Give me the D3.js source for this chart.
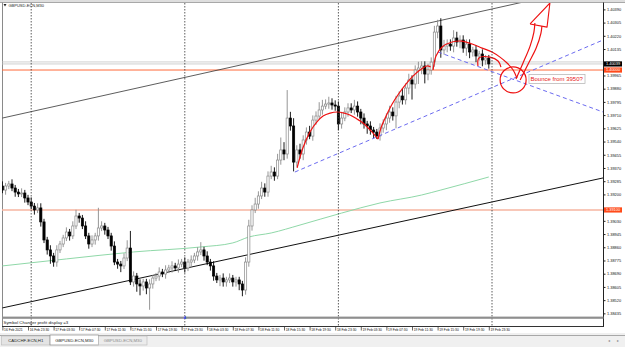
<!DOCTYPE html>
<html>
<head>
<meta charset="utf-8">
<script src="https://cdnjs.cloudflare.com/ajax/libs/d3/7.8.5/d3.min.js"></script>
<style>
  body { margin: 0; background: #fff; }
  svg { display: block; font-family: "Liberation Sans", Arial, sans-serif; }
</style>
</head>
<body>
<svg id="chart" width="625" height="347"></svg>
<script>
// ---- data (GBPUSD M30, 16-19 Feb 2021) ----
const pip = 0.0001
const firstOpen = 1.39254
const closes = [
  1.39228, 1.39254, 1.39267, 1.39241, 1.39215, 1.39203, 1.39209, 1.39177, 1.39151, 1.39125,
  1.39100, 1.39113, 1.39023, 1.38907, 1.38843, 1.38804, 1.38765, 1.38843, 1.38881, 1.38920,
  1.38958, 1.38933, 1.38997, 1.39061, 1.39048, 1.38997, 1.38933, 1.38881, 1.38907, 1.38933,
  1.38984, 1.38997, 1.38971, 1.38933, 1.38868, 1.38765, 1.38752, 1.38740, 1.38791, 1.38855,
  1.38637, 1.38675, 1.38624, 1.38611, 1.38637, 1.38598, 1.38624, 1.38662, 1.38675, 1.38701,
  1.38688, 1.38714, 1.38727, 1.38740, 1.38727, 1.38752, 1.38765, 1.38727, 1.38765, 1.38778,
  1.38804, 1.38830, 1.38843, 1.38804, 1.38765, 1.38740, 1.38675, 1.38650, 1.38662, 1.38637,
  1.38650, 1.38662, 1.38637, 1.38650, 1.38624, 1.38585, 1.38765, 1.38997, 1.39100, 1.39138,
  1.39190, 1.39241, 1.39215, 1.39318, 1.39344, 1.39318, 1.39421, 1.39486, 1.39460, 1.39691,
  1.39640, 1.39408, 1.39486, 1.39460, 1.39550, 1.39601, 1.39575, 1.39678, 1.39704, 1.39743,
  1.39768, 1.39781, 1.39788, 1.39775, 1.39768, 1.39653, 1.39691, 1.39730, 1.39756, 1.39743,
  1.39768, 1.39730, 1.39691, 1.39653, 1.39640, 1.39614, 1.39601, 1.39576, 1.39627, 1.39653,
  1.39691, 1.39730, 1.39705, 1.39794, 1.39833, 1.39808, 1.39884, 1.39936, 1.39910, 1.40000,
  1.40013, 1.40026, 1.39974, 1.40000, 1.40051, 1.40244, 1.40283, 1.40129, 1.40154, 1.40167,
  1.40154, 1.40206, 1.40180, 1.40193, 1.40141, 1.40167, 1.40116, 1.40129, 1.40090, 1.40103,
  1.40064, 1.40077, 1.40039
]
// wick lengths above / below the body, in pips
const upWick = [
  3,2,2,3,2,2,3,2,2,3,  2,3,3,2,2,3,2,3,2,2,  3,2,3,4,2,2,3,2,3,2,
  13,3,2,2,2,3,2,2,3,5, 11,3,2,3,2,2,3,2,2,3, 2,3,2,3,2,3,2,3,2,3,
  2,3,5,2,3,2,3,2,2,3,  2,3,2,2,2,2,3,4,3,4,  3,4,3,3,4,3,4,8,5,18,
  4,5,3,4,3,3,4,3,3,5,  4,3,4,3,3,3,4,3,3,3,  4,3,2,3,2,3,2,2,3,3,
  3,4,3,4,3,5,3,4,3,3,  4,3,3,4,3,4,4,5,4,3,  3,5,4,3,3,3,3,2,3,2,
  3,2,2
]
const dnWick = [
  2,3,2,2,3,2,2,3,2,2,  3,2,3,2,3,5,3,3,2,2,  2,3,2,2,3,2,2,3,2,3,
  3,2,3,2,3,2,3,4,2,2,  2,3,5,6,3,4,14,3,2,3, 2,3,2,3,2,3,2,3,2,3,
  2,3,2,3,2,3,3,2,4,3,  3,2,3,3,4,4,3,3,3,2,  3,2,3,3,2,3,2,3,4,3,
  3,6,3,3,4,3,2,3,3,2,  3,2,3,3,3,4,3,2,3,2,  3,3,4,3,5,3,4,2,3,3,
  4,3,3,8,4,3,3,4,10,3, 9,4,6,4,3,3,4,5,3,4,  3,4,3,4,3,5,4,3,4,3,
  4,3,3
]

const priceTicks = [1.40390, 1.40305, 1.40220, 1.40135, 1.40050, 1.39965, 1.39880, 1.39795,
  1.39710, 1.39625, 1.39540, 1.39455, 1.39370, 1.39285, 1.39200, 1.39115, 1.39030, 1.38945,
  1.38860, 1.38775, 1.38690, 1.38605, 1.38520, 1.38435]

const timeBars = [0, 8, 16, 24, 32, 40, 48, 56, 64, 72, 80, 88, 96, 104, 112, 120, 128, 136, 144, 152]
const timeLabels = ["16 Feb 2021", "16 Feb 23:30", "17 Feb 03:30", "17 Feb 07:30", "17 Feb 11:30",
  "17 Feb 15:30", "17 Feb 19:30", "17 Feb 23:30", "18 Feb 03:30", "18 Feb 07:30", "18 Feb 11:30",
  "18 Feb 15:30", "18 Feb 19:30", "18 Feb 23:30", "19 Feb 03:30", "19 Feb 07:30", "19 Feb 11:30",
  "19 Feb 15:30", "19 Feb 19:30", "19 Feb 23:30"]
const daySeps = [9, 57, 105, 153]

// moving average, read at a few bars
const maBars = [0, 20, 41, 62, 72, 77, 84, 93, 106, 118, 131, 137, 152]
const maVals = [1.38740, 1.38785, 1.38830, 1.38862, 1.38888, 1.38926, 1.38952, 1.39003,
  1.39080, 1.39145, 1.39196, 1.39228, 1.39312]

const levels = [1.40000, 1.39100]
const askPrice = 1.40052

// trend lines  [bar, price]
const chanUpper = [[0, 1.39691], [130, 1.40287]]
const chanLower = [[0, 1.38470], [150, 1.39138]]
const blueUp = [[91.4, 1.39344], [187.7, 1.40193]]
const blueDown = [[136.1, 1.40116], [187.7, 1.39730]]

// hand drawn red marks  [bar, price]
const arcLeft = [[92.1, 1.39370], [93.9, 1.39498], [96.1, 1.39601], [98.3, 1.39666], [100.2, 1.39704],
  [102.4, 1.39723], [104.6, 1.39730], [106.8, 1.39723], [108.6, 1.39711], [110.8, 1.39685],
  [112.7, 1.39659], [114.6, 1.39621], [116.1, 1.39588], [117.4, 1.39556]]
const arcRise = [[117.4, 1.39556], [118.3, 1.39627], [119.9, 1.39704], [121.8, 1.39781], [124.0, 1.39852],
  [126.1, 1.39910], [128.3, 1.39961], [130.5, 1.40000], [132.7, 1.40026], [133.8, 1.40020]]
const arcTop = [[134.6, 1.40000], [135.5, 1.40090], [137.4, 1.40148], [140.5, 1.40180], [143.6, 1.40186],
  [146.8, 1.40167], [149.9, 1.40141], [153.0, 1.40116], [155.5, 1.40083], [157.7, 1.40045],
  [159.6, 1.40000], [160.8, 1.39948]]
const loopSmall = [[148.6, 1.40026], [148.9, 1.40077], [152.4, 1.40083], [154.9, 1.40058], [155.8, 1.40019]]
const shaftA = [[160.5, 1.39942], [162.7, 1.40045], [164.9, 1.40154], [166.1, 1.40244], [166.4, 1.40302]]
const shaftB = [[161.8, 1.39936], [164.3, 1.40039], [166.8, 1.40141], [168.3, 1.40238], [168.6, 1.40283]]
const arrowHead = [[164.9, 1.40296], [171.1, 1.40431], [170.2, 1.40276], [164.9, 1.40296]]
const ring = {bar: 159.6, price: 1.39936}
const note = {bar: 164.4, price: 1.39942, text: "Bounce from 3950?"}

const tabs = ["CADCHF-ECN,H1", "GBPUSD-ECN,M30", "GBPUSD-ECN,M30"]

// ---------------------------------------------------------------
const plot = {left: 2, right: 603, top: 3, bottom: 316}

function make_scales() {
  return {
    x: d3.scaleLinear().domain([0, 150]).range([2.4, 482.4]),
    y: d3.scaleLinear().domain([1.38418, 1.40431]).range([316, 3])
  }
}

function build_bars() {
  return closes.map((c, i) => {
    let o = i == 0 ? firstOpen : closes[i - 1]
    return {
      i: i, o: o, c: c,
      h: Math.max(o, c) + (upWick[i] || 0) * pip,
      l: Math.min(o, c) - (dnWick[i] || 0) * pip
    }
  })
}

function draw_frame(svg) {
  svg.append("rect").attr("width", 625).attr("height", 347).attr("fill", "#fff")
  svg.append("rect").attr("width", 625).attr("height", 2).attr("fill", "#dedede")
  svg.append("line").attr("x1", 0).attr("x2", 625).attr("y1", 2.5).attr("y2", 2.5).attr("stroke", "#a8a8a8")
  svg.append("line").attr("x1", 2.5).attr("x2", 2.5).attr("y1", 2.5).attr("y2", 327).attr("stroke", "#8a8a8a")
  svg.append("line").attr("x1", 603.5).attr("x2", 603.5).attr("y1", 2.5).attr("y2", 327).attr("stroke", "#222")
}

function draw_levels(g, s) {
  g.selectAll("line.level").data(levels).enter().append("line")
    .attr("class", "level")
    .attr("x1", plot.left).attr("x2", plot.right)
    .attr("y1", d => s.y(d)).attr("y2", d => s.y(d))
    .attr("stroke", (d, i) => i == 0 ? "#ff6a3a" : "#f6b4a0")
    .attr("stroke-width", (d, i) => i == 0 ? 1 : 1.6)
  let last = closes[closes.length - 1]
  g.selectAll("line.quote").data([last, askPrice]).enter().append("line")
    .attr("class", "quote")
    .attr("x1", plot.left).attr("x2", plot.right)
    .attr("y1", d => s.y(d)).attr("y2", d => s.y(d))
    .attr("stroke", "#c4c4c4").attr("stroke-width", 0.8)
}

function draw_day_seps(svg, s) {
  svg.selectAll("line.day").data(daySeps).enter().append("line")
    .attr("class", "day")
    .attr("x1", d => s.x(d)).attr("x2", d => s.x(d))
    .attr("y1", plot.top).attr("y2", 326)
    .attr("stroke", "#333").attr("stroke-width", 0.8)
    .attr("stroke-dasharray", "1.5,1.5")
}

function draw_ma(g, s) {
  let pts = maBars.map((b, i) => [b, maVals[i]])
  g.append("path")
    .attr("d", d3.line().x(d => s.x(d[0])).y(d => s.y(d[1])).curve(d3.curveMonotoneX)(pts))
    .attr("fill", "none").attr("stroke", "#8fd8a8").attr("stroke-width", 1)
}

function draw_channel(g, s, pts, color, width) {
  let x0 = s.x(pts[0][0]), y0 = s.y(pts[0][1])
  let x1 = s.x(pts[1][0]), y1 = s.y(pts[1][1])
  let k = (y1 - y0) / (x1 - x0)
  g.append("line")
    .attr("x1", x0).attr("y1", y0)
    .attr("x2", plot.right).attr("y2", y0 + k * (plot.right - x0))
    .attr("stroke", color).attr("stroke-width", width)
}

function draw_candles(g, s, bars) {
  let cg = g.append("g")
  cg.selectAll("line").data(bars).enter().append("line")
    .attr("x1", d => s.x(d.i)).attr("x2", d => s.x(d.i))
    .attr("y1", d => s.y(d.h)).attr("y2", d => s.y(d.l))
    .attr("stroke", d => d.c < d.o ? "#000" : "#8a8a8a")
    .attr("stroke-width", 0.9)
  cg.selectAll("rect").data(bars).enter().append("rect")
    .attr("x", d => s.x(d.i) - 1.1)
    .attr("width", 2.2)
    .attr("y", d => s.y(Math.max(d.o, d.c)))
    .attr("height", d => Math.max(0.6, Math.abs(s.y(d.o) - s.y(d.c))))
    .attr("fill", d => d.c < d.o ? "#000" : "#fff")
    .attr("stroke", d => d.c < d.o ? "#000" : "#8a8a8a")
    .attr("stroke-width", 0.7)
}

function draw_marks(g, s) {
  let line = d3.line().x(d => s.x(d[0])).y(d => s.y(d[1]))
  // blue dashed trend lines
  g.selectAll("line.blue").data([blueUp, blueDown]).enter().append("line")
    .attr("class", "blue")
    .attr("x1", d => s.x(d[0][0])).attr("y1", d => s.y(d[0][1]))
    .attr("x2", d => s.x(d[1][0])).attr("y2", d => s.y(d[1][1]))
    .attr("stroke", "#6b6bf0").attr("stroke-width", 1)
    .attr("stroke-dasharray", "4,3")
  // red freehand curves
  let curvy = line.curve(d3.curveCatmullRom)
  g.selectAll("path.red").data([arcLeft, arcRise, arcTop, loopSmall, shaftA, shaftB]).enter().append("path")
    .attr("class", "red")
    .attr("d", d => curvy(d))
    .attr("fill", "none").attr("stroke", "#ee1111").attr("stroke-width", 1.2)
  g.append("path")
    .attr("d", d3.line().x(d => s.x(d[0])).y(d => s.y(d[1]))(arrowHead))
    .attr("fill", "none").attr("stroke", "#ee1111").attr("stroke-width", 1.1)
    .attr("stroke-linejoin", "round")
  g.append("circle")
    .attr("cx", s.x(ring.bar)).attr("cy", s.y(ring.price)).attr("r", 13)
    .attr("fill", "none").attr("stroke", "#ee1111").attr("stroke-width", 1.2)
  // text note
  let ng = g.append("g")
  let box = ng.append("rect")
  let t = ng.append("text")
    .attr("x", s.x(note.bar) + 2).attr("y", s.y(note.price) + 2.2)
    .attr("font-size", 6).attr("fill", "#e82020")
    .text(note.text)
  let bb = t.node().getBBox()
  box.attr("x", bb.x - 1.5).attr("y", s.y(note.price) - 4.5)
    .attr("width", bb.width + 3).attr("height", 9)
    .attr("fill", "#fff").attr("stroke", "#b0b0b0").attr("stroke-width", 0.7)
}

function draw_price_axis(svg, s) {
  let last = closes[closes.length - 1]
  let tags = [{p: last, fill: "#000"}, {p: levels[0], fill: "#ff4a1a"}, {p: levels[1], fill: "#ff4a1a"}]
  // labels hidden behind a price tag are not drawn, as in the terminal
  let shown = priceTicks.filter(t => tags.every(d => Math.abs(s.y(d.p) - s.y(t)) > 5))

  let y_axis = d3.axisRight(s.y).tickValues(shown).tickFormat(d3.format(".5f")).tickSize(2).tickPadding(1.5)
  svg.append("g")
    .attr("transform", "translate(603.5,0)")
    .call(y_axis)
    .call(a => a.select(".domain").remove())
    .call(a => a.attr("font-size", 3.9).attr("font-family", "Liberation Sans, Arial, sans-serif"))
    .call(a => a.selectAll("line").attr("stroke", "#222"))
    .call(a => a.selectAll("text").attr("fill", "#111"))

  // price boxes
  let tg = svg.append("g")
  tg.selectAll("rect").data(tags).enter().append("rect")
    .attr("x", 604).attr("width", 18)
    .attr("y", d => s.y(d.p) - 2.6).attr("height", 5.2)
    .attr("fill", d => d.fill)
  tg.selectAll("text").data(tags).enter().append("text")
    .attr("x", 606).attr("y", d => s.y(d.p) + 1.4)
    .attr("font-size", 3.9).attr("fill", "#fff")
    .text(d => d3.format(".5f")(d.p))
}

function draw_bottom(svg, s) {
  // separator and indicator sub-window
  svg.append("rect").attr("x", 2).attr("y", 316.6).attr("width", 601.5).attr("height", 2.2).attr("fill", "#8e8e8e")
  svg.append("line").attr("x1", 2).attr("x2", 603.5).attr("y1", 326.5).attr("y2", 326.5).attr("stroke", "#333")
  svg.append("text").attr("x", 3.5).attr("y", 324.2).attr("font-size", 4.4).attr("fill", "#222")
    .text("Symbol Changer profit display =3")
  svg.append("text").attr("x", s.x(daySeps[1]) - 1).attr("y", 318.6)
    .attr("font-size", 4.2).attr("fill", "#1f3cff").attr("font-weight", "bold").text("4")

  // time axis
  let x_axis = d3.axisBottom(s.x).tickValues(timeBars).tickFormat((d, i) => timeLabels[i]).tickSize(3.5)
  svg.append("g")
    .attr("transform", "translate(0,327)")
    .call(x_axis)
    .call(a => a.select(".domain").remove())
    .call(a => a.attr("font-size", 3.3).attr("font-family", "Liberation Sans, Arial, sans-serif"))
    .call(a => a.selectAll("line").attr("stroke", "#222").attr("stroke-width", 0.7))
    .call(a => a.selectAll("text").attr("text-anchor", "start").attr("x", 1.2).attr("y", 4.4).attr("dy", 0).attr("fill", "#111"))

  // tab bar
  svg.append("rect").attr("x", 0).attr("y", 333).attr("width", 625).attr("height", 14).attr("fill", "#f0f0f0")
  svg.append("line").attr("x1", 0).attr("x2", 625).attr("y1", 335.5).attr("y2", 335.5).attr("stroke", "#a8a8a8")
  let tw = 48.5
  let tg = svg.append("g")
  tg.selectAll("rect").data(tabs).enter().append("rect")
    .attr("x", (d, i) => 1.5 + i * tw).attr("y", (d, i) => i == 1 ? 335 : 336)
    .attr("width", tw).attr("height", (d, i) => i == 1 ? 10 : 9)
    .attr("fill", (d, i) => i == 1 ? "#fff" : (i == 0 ? "#e4e4e4" : "#ececec"))
    .attr("stroke", (d, i) => i == 1 ? "#777" : "#b8b8b8").attr("stroke-width", 0.6)
  tg.selectAll("text").data(tabs).enter().append("text")
    .attr("x", (d, i) => 1.5 + i * tw + tw / 2).attr("y", 342.2)
    .attr("text-anchor", "middle").attr("font-size", 4.3)
    .attr("fill", (d, i) => i == 2 ? "#8a8a8a" : "#222")
    .text(d => d)
  svg.append("text").attr("x", 608).attr("y", 342).attr("font-size", 4).attr("fill", "#888").text("\u25C2")
  svg.append("text").attr("x", 617).attr("y", 342).attr("font-size", 4).attr("fill", "#888").text("\u25B8")
}

function visualize() {
  let svg = d3.select("#chart")
  let scales = make_scales()
  let bars = build_bars()

  draw_frame(svg)
  svg.append("clipPath").attr("id", "plotclip").append("rect")
    .attr("x", plot.left).attr("y", plot.top)
    .attr("width", plot.right - plot.left).attr("height", plot.bottom - plot.top)
  let g = svg.append("g").attr("clip-path", "url(#plotclip)")

  draw_levels(g, scales)
  draw_day_seps(svg, scales)
  draw_channel(g, scales, chanUpper, "#333", 0.8)
  draw_channel(g, scales, chanLower, "#111", 1)
  draw_ma(g, scales)
  draw_candles(g, scales, bars)
  draw_marks(g, scales)

  // title
  svg.append("path").attr("d", "M3.5,4 L6.5,4 L5,6.5 Z").attr("fill", "#222")
  svg.append("text").attr("x", 8.5).attr("y", 6.6).attr("font-size", 4).attr("fill", "#222")
    .text("GBPUSD-ECN,M30")

  draw_price_axis(svg, scales)
  draw_bottom(svg, scales)
}

visualize()
</script>
</body>
</html>
